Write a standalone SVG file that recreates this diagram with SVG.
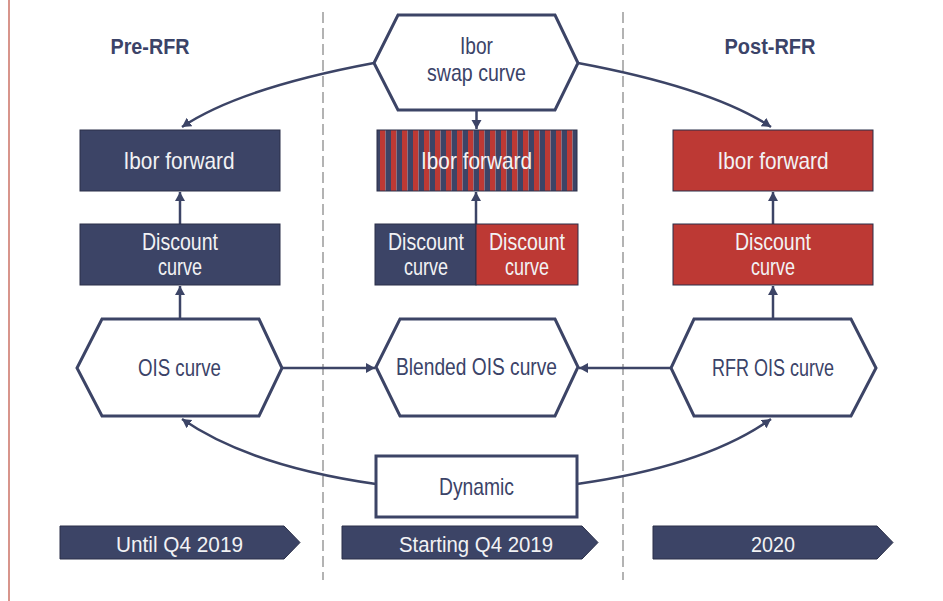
<svg xmlns="http://www.w3.org/2000/svg" width="943" height="601" viewBox="0 0 943 601">
<style>
.t{font-family:"Liberation Sans",Arial,sans-serif;font-size:24px;text-anchor:middle;fill:#3b4368}
.w{fill:#f2f2f4}
.b{font-weight:bold;font-size:22px}
.c{font-size:22px}
.navy{fill:#3c4466;stroke:#2a2f48;stroke-width:1}
.red{fill:#bd3934;stroke:#2a2f48;stroke-width:1}
.hex{fill:#fff;stroke:#3c4466;stroke-width:3}
.con{fill:none;stroke:#3c4466;stroke-width:2.5}
.dash{stroke:#b3b3b3;stroke-width:2;stroke-dasharray:11 5}
</style>
<defs>
<marker id="ah" markerUnits="userSpaceOnUse" markerWidth="12" markerHeight="12" refX="9" refY="5" orient="auto">
<path d="M0,0 L9,5 L0,10 z" fill="#3c4466"/>
</marker>
<pattern id="stripes" patternUnits="userSpaceOnUse" x="380" y="0" width="11" height="20">
<rect x="0" y="0" width="5.5" height="20" fill="#bd3934"/>
<rect x="5.5" y="0" width="5.5" height="20" fill="#3c4466"/>
</pattern>
</defs>
<rect width="943" height="601" fill="#fff"/>
<line x1="9" y1="0" x2="9" y2="601" stroke="#d8958c" stroke-width="2"/>
<g id="dividers">
<line class="dash" x1="323" y1="12" x2="323" y2="580"/>
<line class="dash" x1="623" y1="12" x2="623" y2="580"/>
</g>
<g id="headers">
<text class="t b" x="150" y="54" textLength="79" lengthAdjust="spacingAndGlyphs">Pre-RFR</text>
<text class="t b" x="770" y="54" textLength="91" lengthAdjust="spacingAndGlyphs">Post-RFR</text>
</g>
<g id="connectors">
<path class="con" d="M374,63 Q240,88 182,127" marker-end="url(#ah)"/>
<path class="con" d="M578,63 Q712,88 771,127" marker-end="url(#ah)"/>
<line class="con" x1="476.5" y1="110" x2="476.5" y2="129" marker-end="url(#ah)"/>
<line class="con" x1="180" y1="224" x2="180" y2="192" marker-end="url(#ah)"/>
<line class="con" x1="180" y1="319" x2="180" y2="286" marker-end="url(#ah)"/>
<line class="con" x1="476" y1="224" x2="476" y2="192" marker-end="url(#ah)"/>
<line class="con" x1="773" y1="224" x2="773" y2="192" marker-end="url(#ah)"/>
<line class="con" x1="773" y1="319" x2="773" y2="286" marker-end="url(#ah)"/>
<line class="con" x1="282" y1="368" x2="375" y2="368" marker-end="url(#ah)"/>
<line class="con" x1="671" y1="368" x2="579" y2="368" marker-end="url(#ah)"/>
<path class="con" d="M376,484 Q250,466 182,419" marker-end="url(#ah)"/>
<path class="con" d="M577,484 Q705,466 771,419" marker-end="url(#ah)"/>
</g>
<g id="ibor-swap">
<polygon class="hex" points="398,15 555,15 578,63 555,110 398,110 374,63"/>
<text class="t" x="476.5" y="54" textLength="33" lengthAdjust="spacingAndGlyphs">Ibor</text>
<text class="t" x="476.5" y="81" textLength="99" lengthAdjust="spacingAndGlyphs">swap curve</text>
</g>
<g id="pre-ibor-forward">
<rect class="navy" x="80" y="130" width="200" height="61"/>
<text class="t w" x="179" y="169" textLength="111" lengthAdjust="spacingAndGlyphs">Ibor forward</text>
</g>
<g id="pre-discount">
<rect class="navy" x="80" y="224" width="200" height="61"/>
<text class="t w" x="180" y="250" textLength="76" lengthAdjust="spacingAndGlyphs">Discount</text>
<text class="t w" x="180" y="275" textLength="44" lengthAdjust="spacingAndGlyphs">curve</text>
</g>
<g id="ois-curve">
<polygon class="hex" points="102,319 259,319 282,368 259,416 102,416 77,368"/>
<text class="t" x="179.5" y="376" textLength="83" lengthAdjust="spacingAndGlyphs">OIS curve</text>
</g>
<g id="mid-ibor-forward">
<rect x="377" y="130" width="200" height="61" fill="url(#stripes)" stroke="#2a2f48" stroke-width="1"/>
<text class="t w" x="476.5" y="169" textLength="111" lengthAdjust="spacingAndGlyphs">Ibor forward</text>
</g>
<g id="mid-discount">
<rect class="navy" x="375" y="224" width="101" height="61"/>
<rect class="red" x="476" y="224" width="102" height="61"/>
<text class="t w" x="426" y="250" textLength="76" lengthAdjust="spacingAndGlyphs">Discount</text>
<text class="t w" x="426" y="275" textLength="44" lengthAdjust="spacingAndGlyphs">curve</text>
<text class="t w" x="527" y="250" textLength="76" lengthAdjust="spacingAndGlyphs">Discount</text>
<text class="t w" x="527" y="275" textLength="44" lengthAdjust="spacingAndGlyphs">curve</text>
</g>
<g id="blended-ois">
<polygon class="hex" points="400,319 555,319 578,367 555,416 400,416 376,367"/>
<text class="t" x="476.5" y="375" textLength="161" lengthAdjust="spacingAndGlyphs">Blended OIS curve</text>
</g>
<g id="post-ibor-forward">
<rect class="red" x="673" y="130" width="200" height="61"/>
<text class="t w" x="773" y="169" textLength="111" lengthAdjust="spacingAndGlyphs">Ibor forward</text>
</g>
<g id="post-discount">
<rect class="red" x="673" y="224" width="200" height="61"/>
<text class="t w" x="773" y="250" textLength="76" lengthAdjust="spacingAndGlyphs">Discount</text>
<text class="t w" x="773" y="275" textLength="44" lengthAdjust="spacingAndGlyphs">curve</text>
</g>
<g id="rfr-ois">
<polygon class="hex" points="694,319 851,319 876,368 851,416 694,416 671,368"/>
<text class="t" x="773" y="376" textLength="122" lengthAdjust="spacingAndGlyphs">RFR OIS curve</text>
</g>
<g id="dynamic">
<rect x="376" y="456" width="201" height="61" fill="#fff" stroke="#3c4466" stroke-width="3"/>
<text class="t" x="476.5" y="495" textLength="75" lengthAdjust="spacingAndGlyphs">Dynamic</text>
</g>
<g id="timeline-1">
<polygon class="navy" points="60,526 284,526 300,542.5 284,559 60,559"/>
<text class="t w c" x="179.5" y="552" textLength="127" lengthAdjust="spacingAndGlyphs">Until Q4 2019</text>
</g>
<g id="timeline-2">
<polygon class="navy" points="342,526 582,526 598,542.5 582,559 342,559"/>
<text class="t w c" x="476" y="552" textLength="154" lengthAdjust="spacingAndGlyphs">Starting Q4 2019</text>
</g>
<g id="timeline-3">
<polygon class="navy" points="653,526 877,526 893,542.5 877,559 653,559"/>
<text class="t w c" x="773" y="552" textLength="44" lengthAdjust="spacingAndGlyphs">2020</text>
</g>
</svg>
